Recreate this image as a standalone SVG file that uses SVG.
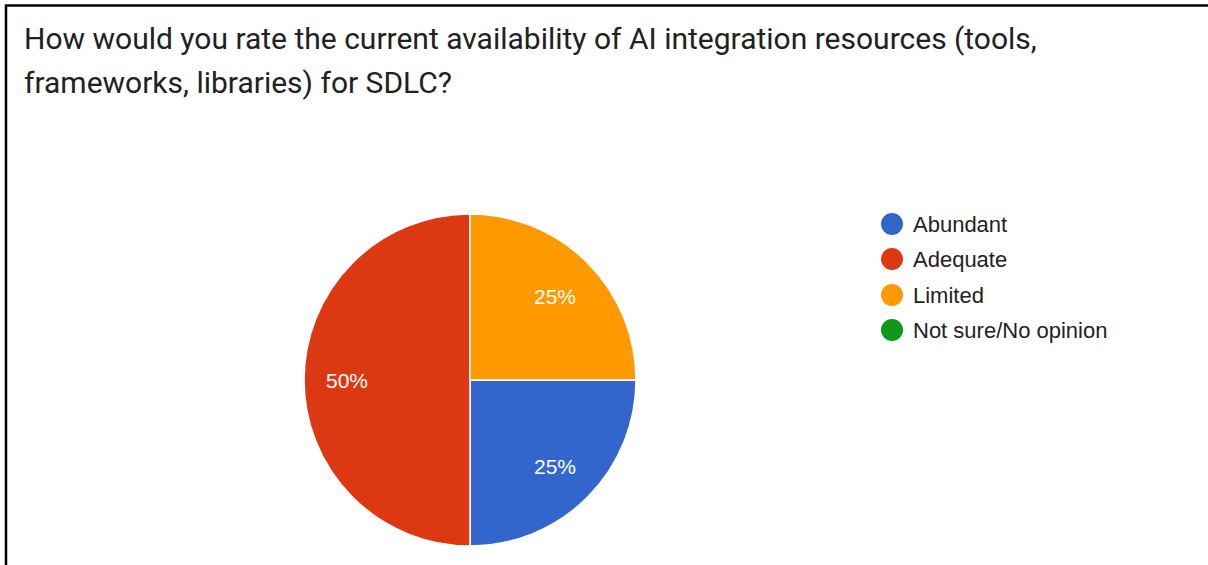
<svg xmlns="http://www.w3.org/2000/svg" width="1208" height="565" viewBox="0 0 1208 565">
  <style>
    .title { font-family: Roboto, "Liberation Sans", sans-serif; font-size: 30px; fill: #212121; }
    .pct { font-family: "Liberation Sans", Arial, sans-serif; font-size: 21px; fill: #ffffff; }
    .leg { font-family: "Liberation Sans", Arial, sans-serif; font-size: 22px; fill: #222222; }
    .slice { stroke: #ffffff; stroke-width: 1.5; }
  </style>
  <rect x="0" y="0" width="1208" height="565" fill="#ffffff"/>
  <!-- frame -->
  <path d="M6 565 V5.5 H1208" fill="none" stroke="#000000" stroke-width="2.5"/>

  <g id="title">
    <text class="title" x="24" y="49">How would you rate the current availability of AI integration resources (tools,</text>
    <text class="title" x="24" y="93">frameworks, libraries) for SDLC?</text>
  </g>

  <!-- pie: center (470,380), r=166 -->
  <g id="pie">
    <g id="slice-abundant">
      <path class="slice" d="M470 380 H636 A166 166 0 0 1 470 546 Z" fill="#3366cc"/>
    </g>
    <g id="slice-adequate">
      <path class="slice" d="M470 380 V546 A166 166 0 0 1 470 214 Z" fill="#dc3912"/>
    </g>
    <g id="slice-limited">
      <path class="slice" d="M470 380 V214 A166 166 0 0 1 636 380 Z" fill="#ff9900"/>
    </g>
    <text class="pct" x="555" y="304" text-anchor="middle">25%</text>
    <text class="pct" x="555" y="474" text-anchor="middle">25%</text>
    <text class="pct" x="347" y="388" text-anchor="middle">50%</text>
  </g>

  <g id="legend">
    <g id="legend-abundant">
      <circle cx="892" cy="224" r="11" fill="#3366cc"/>
      <text class="leg" x="913" y="232">Abundant</text>
    </g>
    <g id="legend-adequate">
      <circle cx="892" cy="259" r="11" fill="#dc3912"/>
      <text class="leg" x="913" y="267">Adequate</text>
    </g>
    <g id="legend-limited">
      <circle cx="892" cy="295" r="11" fill="#ff9900"/>
      <text class="leg" x="913" y="303">Limited</text>
    </g>
    <g id="legend-notsure">
      <circle cx="892" cy="330" r="11" fill="#109618"/>
      <text class="leg" x="913" y="338">Not sure/No opinion</text>
    </g>
  </g>
</svg>
